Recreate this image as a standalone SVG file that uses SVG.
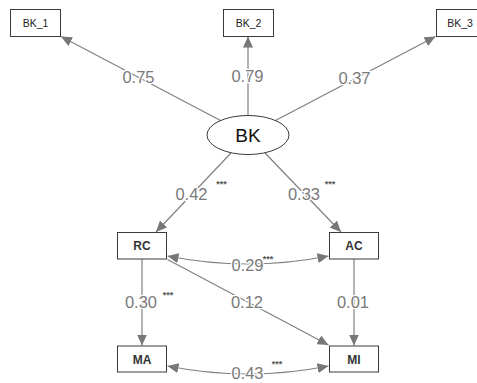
<svg xmlns="http://www.w3.org/2000/svg" width="477" height="383" viewBox="0 0 477 383">
<style>
.edge{fill:none;stroke:#808080;stroke-width:1.2}
.box{fill:#fff;stroke:#3a3a3a;stroke-width:1}
.ind{font-family:"Liberation Sans",Arial,sans-serif;font-size:10.5px;fill:#222;text-anchor:middle}
.obs{font-family:"Liberation Sans",Arial,sans-serif;font-size:12px;font-weight:bold;fill:#333;text-anchor:middle}
.lat{font-family:"Liberation Sans",Arial,sans-serif;font-size:19px;fill:#111;text-anchor:middle}
.lbl{font-family:"Liberation Sans",Arial,sans-serif;font-size:16.5px;fill:#7a7a7a;text-anchor:middle;stroke:#fff;stroke-width:2.5;paint-order:stroke}
.star{font-family:"Liberation Sans",Arial,sans-serif;font-size:9px;font-weight:bold;fill:#555;text-anchor:middle}
</style>
<defs>
<marker id="ah" markerUnits="userSpaceOnUse" markerWidth="12" markerHeight="10" refX="11" refY="5" orient="auto-start-reverse" viewBox="0 0 12 10">
<path d="M0,0 L11,5 L0,10 Z" fill="#777"/>
</marker>
</defs>
<g id="connectors">
<path class="edge" d="M220.5,120.5 L61,36.5" marker-end="url(#ah)"/>
<path class="edge" d="M248,115.5 L248,36.5" marker-end="url(#ah)"/>
<path class="edge" d="M275.5,120.5 L435.5,36.5" marker-end="url(#ah)"/>
<path class="edge" d="M231,153 L156,232" marker-end="url(#ah)"/>
<path class="edge" d="M265,153 L341,232" marker-end="url(#ah)"/>
<path class="edge" d="M167.5,256 Q248,272 328.5,256" marker-start="url(#ah)" marker-end="url(#ah)"/>
<path class="edge" d="M142,259 L142,345.5" marker-end="url(#ah)"/>
<path class="edge" d="M354,259 L354,345.5" marker-end="url(#ah)"/>
<path class="edge" d="M167.5,259.5 L328.5,345" marker-end="url(#ah)"/>
<path class="edge" d="M167.5,366 Q248,382 328.5,366" marker-start="url(#ah)" marker-end="url(#ah)"/>
</g>
<g id="labels">
<text class="lbl" x="138.5" y="83">0.75</text>
<text class="lbl" x="247.5" y="82">0.79</text>
<text class="lbl" x="354.5" y="84">0.37</text>
<text class="lbl" x="191.5" y="200">0.42</text>
<text class="star" x="221.5" y="187">***</text>
<text class="lbl" x="304" y="200">0.33</text>
<text class="star" x="330" y="187">***</text>
<text class="lbl" x="247.5" y="271">0.29</text>
<text class="star" x="268" y="262">***</text>
<text class="lbl" x="141" y="308">0.30</text>
<text class="star" x="168" y="298">***</text>
<text class="lbl" x="247" y="308">0.12</text>
<text class="lbl" x="353" y="308">0.01</text>
<text class="lbl" x="247.5" y="379">0.43</text>
<text class="star" x="277" y="367">***</text>
</g>
<g id="BK_1"><rect class="box" x="10.5" y="9.5" width="50" height="27"/><text class="ind" x="35.5" y="27">BK_1</text></g>
<g id="BK_2"><rect class="box" x="223.5" y="9.5" width="50" height="27"/><text class="ind" x="248.5" y="27">BK_2</text></g>
<g id="BK_3"><rect class="box" x="436.5" y="9.5" width="50" height="27"/><text class="ind" x="460" y="27">BK_3</text></g>
<g id="BK"><ellipse cx="248" cy="135" rx="41" ry="19.5" fill="#fff" stroke="#3a3a3a" stroke-width="1"/><text class="lat" x="248" y="142">BK</text></g>
<g id="RC"><rect class="box" x="117.5" y="232.5" width="49" height="26.5"/><text class="obs" x="142" y="250">RC</text></g>
<g id="AC"><rect class="box" x="329.5" y="232.5" width="49" height="26.5"/><text class="obs" x="354" y="250">AC</text></g>
<g id="MA"><rect class="box" x="117.5" y="346" width="49" height="26"/><text class="obs" x="142" y="363.5">MA</text></g>
<g id="MI"><rect class="box" x="329.5" y="346" width="49" height="26"/><text class="obs" x="354" y="363.5">MI</text></g>
</svg>
